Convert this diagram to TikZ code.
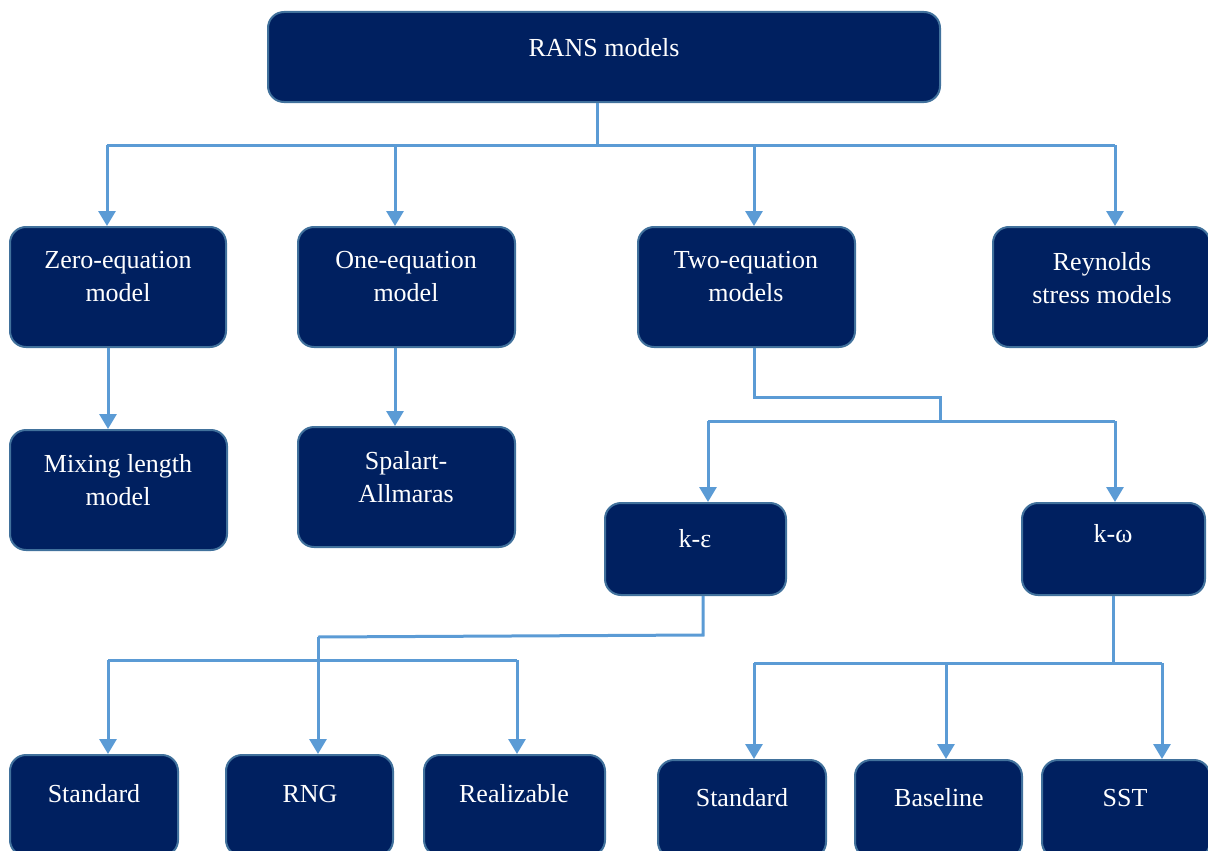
\documentclass[tikz,border=0pt]{standalone}
\usepackage{fontspec}
\setmainfont{Liberation Serif}
\usetikzlibrary{arrows.meta}
\definecolor{boxfill}{RGB}{0,32,96}
\definecolor{boxline}{RGB}{65,113,156}
\definecolor{conn}{RGB}{91,155,213}
\begin{document}
\begin{tikzpicture}[x=1pt,y=-1pt,
  box/.style={draw=boxline, line width=2pt, fill=boxfill, rounded corners=16pt, inner sep=0pt},
  txt/.style={text=white, align=center, font=\fontsize{26}{33}\selectfont, inner sep=0pt},
  link/.style={draw=conn, line width=3pt},
  arr/.style={link, -{Triangle[width=17pt,length=15pt]}}]
\useasboundingbox (0,0) rectangle (1208,851);
\clip (0,0) rectangle (1208,851);
% boxes
\node[box, minimum width=672pt, minimum height=90pt]  (rans) at (604,57) {};
\node[box, minimum width=216pt, minimum height=120pt] (zero) at (118,287) {};
\node[box, minimum width=217pt, minimum height=120pt] (one)  at (406.5,287) {};
\node[box, minimum width=217pt, minimum height=120pt] (two)  at (746.5,287) {};
\node[box, minimum width=217pt, minimum height=120pt] (rey)  at (1101.5,287) {};
\node[box, minimum width=217pt, minimum height=120pt] (mix)  at (118.5,490) {};
\node[box, minimum width=217pt, minimum height=120pt] (spa)  at (406.5,487) {};
\node[box, minimum width=181pt, minimum height=92pt]  (keps) at (695.5,549) {};
\node[box, minimum width=183pt, minimum height=92pt]  (komg) at (1113.5,549) {};
\node[box, minimum width=168pt, minimum height=101pt] (std1) at (94,805.5) {};
\node[box, minimum width=167pt, minimum height=101pt] (rng)  at (309.5,805.5) {};
\node[box, minimum width=181pt, minimum height=101pt] (real) at (514.5,805.5) {};
\node[box, minimum width=168pt, minimum height=98pt]  (std2) at (742,809) {};
\node[box, minimum width=167pt, minimum height=98pt]  (base) at (938.5,809) {};
\node[box, minimum width=168pt, minimum height=98pt]  (sst)  at (1126,809) {};
% texts
\node[txt, anchor=base] (t-rans) at (604,57) {RANS models};
\node[txt] (t-zero) at (118,277) {Zero-equation\\model};
\node[txt] (t-one)  at (406,277) {One-equation\\model};
\node[txt] (t-two)  at (746,277) {Two-equation\\models};
\node[txt] (t-rey)  at (1102,278) {Reynolds\\stress models};
\node[txt] (t-mix)  at (118,480.5) {Mixing length\\model};
\node[txt] (t-spa)  at (406,477.5) {Spalart-\\Allmaras};
\node[txt, anchor=base] (t-keps) at (695,547) {k-ε};
\node[txt, anchor=base] (t-komg) at (1113,542) {k-ω};
\node[txt, anchor=base] (t-std1) at (94,802.5) {Standard};
\node[txt, anchor=base] (t-rng)  at (310,802.5) {RNG};
\node[txt, anchor=base] (t-real) at (514,802.5) {Realizable};
\node[txt, anchor=base] (t-std2) at (742,806.5) {Standard};
\node[txt, anchor=base] (t-base) at (939,806.5) {Baseline};
\node[txt, anchor=base] (t-sst)  at (1125,806.5) {SST};
% junction coordinates
\coordinate (j0) at (597,145);
\coordinate (j0l) at (107,145);
\coordinate (j0r) at (1115,145);
\coordinate (j0b) at (395,145);
\coordinate (j0c) at (754,145);
\coordinate (j1a) at (754,397);
\coordinate (j1b) at (940,397);
\coordinate (j1c) at (940,421);
\coordinate (j1l) at (708,421);
\coordinate (j1r) at (1115,421);
\coordinate (j2a) at (703,635);
\coordinate (j2b) at (318,637);
\coordinate (j3l) at (108,660);
\coordinate (j3r) at (517,660);
\coordinate (j4) at (1113,663);
\coordinate (j4l) at (754,663);
\coordinate (j4m) at (946,663);
\coordinate (j4r) at (1162,663);
% connectors
\draw[link] (rans.south -| j0) -- (j0);
\draw[link] (j0l) -- (j0r);
\draw[arr] (j0l) -- (j0l |- zero.north);
\draw[arr] (j0b) -- (j0b |- one.north);
\draw[arr] (j0c) -- (j0c |- two.north);
\draw[arr] (j0r) -- (j0r |- rey.north);
\draw[arr] ([xshift=-10pt]zero.south) -- ([xshift=-10.5pt]mix.north);
\draw[arr] ([xshift=-11.5pt]one.south) -- ([xshift=-11.5pt]spa.north);
\draw[link] (two.south -| j1a) -- (j1a) -- (j1b) -- (j1c);
\draw[link] (j1l) -- (j1r);
\draw[arr] (j1l) -- (j1l |- keps.north);
\draw[arr] (j1r) -- (j1r |- komg.north);
\draw[link] (keps.south -| j2a) -- (j2a) -- (j2b);
\draw[arr] (j2b) -- (j2b |- rng.north);
\draw[link] (j3l) -- (j3r);
\draw[arr] (j3l) -- (j3l |- std1.north);
\draw[arr] (j3r) -- (j3r |- real.north);
\draw[link] (komg.south -| j4) -- (j4);
\draw[link] (j4l) -- (j4r);
\draw[arr] (j4l) -- (j4l |- std2.north);
\draw[arr] (j4m) -- (j4m |- base.north);
\draw[arr] (j4r) -- (j4r |- sst.north);
\end{tikzpicture}
\end{document}
